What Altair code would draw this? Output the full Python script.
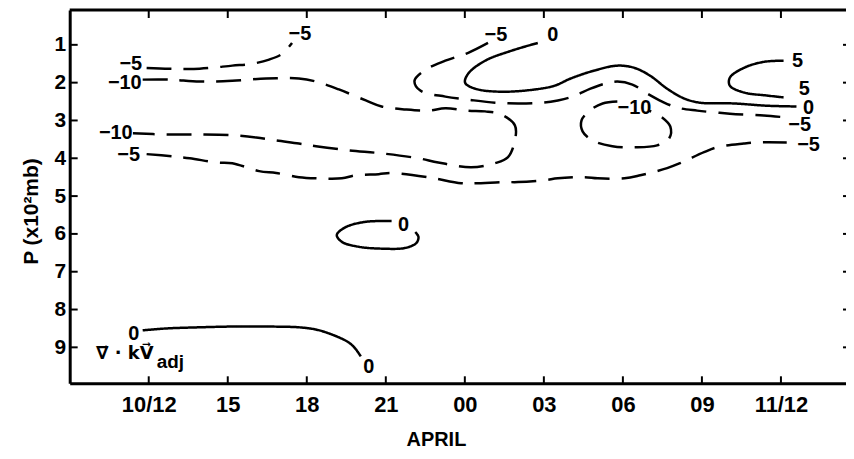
import json
import altair as alt
import pandas as pd

# ---------------- axis values ----------------
x_tick_hours = [0, 3, 6, 9, 12, 15, 18, 21, 24]          # hours after 10 April 12Z
x_tick_labels = ["10/12", "15", "18", "21", "00", "03", "06", "09", "11/12"]
p_ticks = [1, 2, 3, 4, 5, 6, 7, 8, 9]                     # pressure, x10^2 mb

# ---------------- contour lines (h = hours after 10/12, p = pressure x10^2 mb) ----------------
# -5 upper left (dashed)
c1_h = [-0.08, 0.79, 1.93, 3.17, 3.93, 4.57, 5.06, 5.44]
c1_p = [1.61, 1.63, 1.63, 1.55, 1.50, 1.39, 1.24, 0.95]
# -10 open to the left (dashed)
c2_h = [-0.23, 0.79, 1.93, 3.17, 4.46, 5.70, 6.35, 7.22, 8.24, 8.84, 9.75, 10.61, 11.26,
        12.13, 12.77, 13.37, 13.90, 13.90, 13.64, 13.15, 12.24, 10.99, 10.24, 8.84, 7.59,
        6.35, 5.70, 4.84, 4.08, 3.17, 1.93, 0.68, -0.60]
c2_p = [1.92, 1.92, 1.97, 1.95, 1.89, 1.89, 1.97, 2.18, 2.47, 2.63, 2.71, 2.74, 2.68,
        2.74, 2.76, 2.84, 3.13, 3.53, 3.97, 4.13, 4.24, 4.11, 4.00, 3.87, 3.79,
        3.68, 3.61, 3.53, 3.45, 3.39, 3.37, 3.37, 3.34]
# -5 from the top near 00 to the right edge (dashed)
c3_h = [12.88, 12.13, 11.26, 10.50, 10.09, 10.31, 11.26, 12.13, 13.15, 14.02, 14.96, 15.53,
        16.09, 16.77, 17.30, 17.79, 18.36, 18.93, 19.49, 20.06, 20.82, 22.06, 23.35, 24.22]
c3_p = [0.95, 1.21, 1.42, 1.66, 1.95, 2.21, 2.37, 2.45, 2.53, 2.55, 2.53, 2.47,
        2.37, 2.16, 2.03, 1.97, 2.05, 2.29, 2.50, 2.66, 2.74, 2.82, 2.87, 2.92]
# -5 lower, across the whole period (dashed)
c4_h = [-0.08, 0.91, 1.56, 2.57, 3.17, 4.19, 4.84, 5.70, 6.35, 7.33, 7.86, 8.73, 9.22,
        10.61, 11.86, 12.39, 13.52, 14.02, 15.04, 15.53, 16.55, 17.04, 18.06, 18.66,
        19.68, 20.17, 21.08, 21.57, 22.59, 23.08, 24.22]
c4_p = [3.89, 3.95, 4.00, 4.11, 4.13, 4.34, 4.39, 4.50, 4.53, 4.53, 4.45, 4.42, 4.39,
        4.50, 4.66, 4.66, 4.63, 4.63, 4.58, 4.53, 4.50, 4.53, 4.53, 4.45,
        4.26, 4.13, 3.84, 3.71, 3.61, 3.58, 3.58]
# 0 upper (solid)
c5_h = [14.77, 13.75, 12.77, 12.13, 12.01, 12.39, 13.37, 14.66, 15.41, 16.02, 16.92, 17.79,
        18.44, 19.04, 19.68, 20.33, 20.93, 22.21, 23.46, 24.59]
c5_p = [0.95, 1.16, 1.42, 1.76, 2.00, 2.16, 2.24, 2.18, 2.08, 1.89, 1.68, 1.55,
        1.61, 1.82, 2.16, 2.42, 2.53, 2.55, 2.61, 2.63]
# +5 at the right (solid)
c6_h = [24.10, 23.35, 22.59, 22.06, 22.06, 22.59, 23.46, 24.10]
c6_p = [1.42, 1.45, 1.61, 1.87, 2.08, 2.26, 2.34, 2.39]
# -10 closed cell near 06 (dashed)
c7_h = [17.79, 17.23, 16.74, 16.43, 16.47, 16.85, 17.60, 18.44, 19.30, 19.76, 19.80, 19.49, 19.00]
c7_p = [2.50, 2.55, 2.74, 3.00, 3.29, 3.53, 3.68, 3.71, 3.66, 3.47, 3.16, 2.92, 2.74]
# 0 closed cell near 21 / 600 mb (solid)
c8_h = [9.22, 8.24, 7.48, 7.14, 7.33, 7.97, 8.84, 9.75, 10.16, 10.24, 10.12]
c8_p = [5.66, 5.68, 5.82, 6.03, 6.21, 6.34, 6.39, 6.37, 6.24, 6.08, 5.95]
# 0 near the surface (solid)
c9_h = [-0.23, 0.68, 1.93, 3.17, 4.46, 5.70, 6.35, 6.95, 7.59, 7.86, 8.05]
c9_p = [8.55, 8.50, 8.47, 8.45, 8.45, 8.47, 8.53, 8.66, 8.87, 9.05, 9.24]

contour_h = [c1_h, c2_h, c3_h, c4_h, c5_h, c6_h, c7_h, c8_h, c9_h]
contour_p = [c1_p, c2_p, c3_p, c4_p, c5_p, c6_p, c7_p, c8_p, c9_p]
contour_level = [-5, -10, -5, -5, 0, 5, -10, 0, 0]

# ---------------- contour labels ----------------
label_text = ["−5", "−5", "−10", "−10", "−5", "−5", "−5", "−5",
              "0", "0", "5", "5", "−10", "0", "0", "0"]
label_h = [-0.68, 5.74, -0.91, -1.25, 13.18, 24.71, -0.76, 25.05,
           15.34, 25.05, 24.63, 24.89, 18.44, 9.67, -0.57, 8.35]
label_p = [1.50, 0.71, 2.00, 3.32, 0.74, 3.13, 3.92, 3.66,
           0.74, 2.66, 1.42, 2.18, 2.68, 5.76, 8.66, 9.53]

# ---------------- annotation ----------------
note_text = ["∇⃗ · kV⃗", "adj"]
note_h = [-2.0, 0.30]
note_p = [9.32, 9.55]

# ---------------- build tables ----------------
rows = []
for cid, (hs, ps, lev) in enumerate(zip(contour_h, contour_p, contour_level)):
    for i, (h, p) in enumerate(zip(hs, ps)):
        rows.append({"cid": cid, "i": i, "h": h, "p": p, "level": lev,
                     "style": "dash" if lev < 0 else "solid"})
lines_df = pd.DataFrame(rows)
labels_df = pd.DataFrame({"h": label_h, "p": label_p, "t": label_text})
xt_df = pd.DataFrame({"h": x_tick_hours})
yt_df = pd.DataFrame({"p": p_ticks})

W, H = 780, 375
FONT = "Liberation Sans"

label_expr = f"{json.dumps(x_tick_labels)}[indexof({json.dumps(x_tick_hours)}, datum.value)]"

xscale = alt.Scale(domain=[-3, 26.47], nice=False, zero=False)
yscale = alt.Scale(domain=[0.08, 9.95], reverse=True, nice=False, zero=False)

xaxis = alt.Axis(values=x_tick_hours, labelExpr=label_expr, grid=False, ticks=False,
                 domain=True, domainWidth=3, domainColor="black",
                 labelFont=FONT, labelFontSize=22, labelFontWeight="bold", labelColor="black",
                 labelPadding=11, labelFlush=False,
                 title="APRIL", titleFont=FONT, titleFontSize=20, titleFontWeight="bold",
                 titleColor="black", titleX=368, titleY=57, titleAlign="center",
                 titleBaseline="middle")
yaxis = alt.Axis(values=p_ticks, grid=False, ticks=False, domain=True, domainWidth=3,
                 domainColor="black", labelFont=FONT, labelFontSize=21,
                 labelFontWeight="bold", labelColor="black", labelPadding=4,
                 title="P (x10²mb)", titleFont=FONT, titleFontSize=21,
                 titleFontWeight="bold", titleColor="black", titleX=-38, titleY=202,
                 titleAlign="center", titleBaseline="middle", titleAngle=-90)

X = alt.X("h:Q", scale=xscale, axis=xaxis)
Y = alt.Y("p:Q", scale=yscale, axis=yaxis)

lines = alt.Chart(lines_df).mark_line(
    color="black", strokeWidth=2.5, interpolate="catmull-rom"
).encode(
    x=X, y=Y, detail="cid:N", order="i:Q",
    strokeDash=alt.StrokeDash("style:N",
                              scale=alt.Scale(domain=["dash", "solid"],
                                              range=[[25, 12], [1, 0]]),
                              legend=None),
)

labels = alt.Chart(labels_df).mark_text(
    font=FONT, fontSize=20, fontWeight="bold", color="black",
    align="center", baseline="middle"
).encode(x=X, y=Y, text="t:N")

note_main = alt.Chart(pd.DataFrame({"h": note_h[:1], "p": note_p[:1], "t": note_text[:1]})).mark_text(
    font="DejaVu Sans", fontSize=18, fontWeight="bold", color="black",
    align="left", baseline="alphabetic"
).encode(x=X, y=Y, text="t:N")
note_sub = alt.Chart(pd.DataFrame({"h": note_h[1:], "p": note_p[1:], "t": note_text[1:]})).mark_text(
    font=FONT, fontSize=19, fontWeight="bold", color="black",
    align="left", baseline="alphabetic"
).encode(x=X, y=Y, text="t:N")

# inward ticks
bottom_ticks = alt.Chart(xt_df).mark_rule(color="black", strokeWidth=2).encode(
    x=X, y=alt.value(H), y2=alt.value(H - 7))
top_ticks = alt.Chart(xt_df).mark_rule(color="black", strokeWidth=2).encode(
    x=X, y=alt.value(0), y2=alt.value(8))
left_ticks = alt.Chart(yt_df).mark_rule(color="black", strokeWidth=2).encode(
    y=Y, x=alt.value(0), x2=alt.value(8))
right_ticks = alt.Chart(yt_df).mark_rule(color="black", strokeWidth=2).encode(
    y=Y, x=alt.value(W - 3), x2=alt.value(W))
top_border = alt.Chart(xt_df.head(1)).mark_rule(color="black", strokeWidth=3).encode(
    x=alt.value(0), x2=alt.value(W), y=alt.value(0))

chart = alt.layer(
    lines, labels, note_main, note_sub,
    bottom_ticks, top_ticks, left_ticks, right_ticks, top_border
).properties(
    width=W, height=H,
    autosize=alt.AutoSizeParams(type="none"),
    padding={"left": 62, "top": 1, "right": 0, "bottom": 67},
    background="white",
).configure_view(stroke=None)

chart.save("out.html", embed_options={"renderer": "svg", "actions": False})
